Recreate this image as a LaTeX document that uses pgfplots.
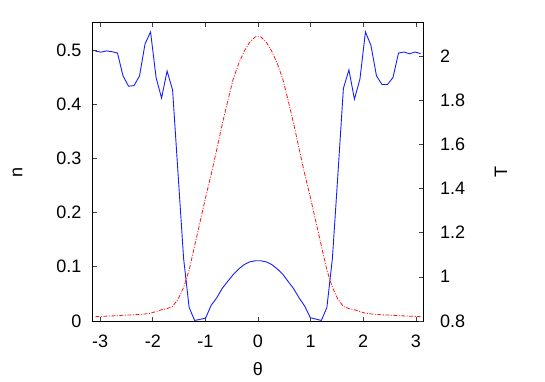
\documentclass[border=0pt]{standalone}
\usepackage{fontspec}
\setmainfont{Liberation Sans}
\usepackage{pgfplots}
\pgfplotsset{compat=1.18}
\definecolor{nblue}{RGB}{20,30,255}
\definecolor{tred}{RGB}{255,20,20}
\begin{document}
\fontsize{18}{21}\selectfont
\begin{tikzpicture}
\path[use as bounding box] (-92.7pt,-61pt) rectangle (452.3pt,321pt);
\pgfplotsset{
  common/.style={
    scale only axis, width=330.6pt, height=298.3pt,
    at={(0pt,0pt)}, anchor=south west,
    xmin=-3.14159, xmax=3.14159,
    tick align=inside, major tick length=4pt,
    tick style={black!75, line width=0.6pt},
    axis line style={line width=0.9pt},
  }
}
\begin{axis}[common,
  ymin=0, ymax=0.55,
  xtick={-3,-2,-1,0,1,2,3}, xticklabels={-3,-2,-1,0,1,2,3},
  ytick={0,0.1,0.2,0.3,0.4,0.5}, yticklabels={0,0.1,0.2,0.3,0.4,0.5},
  xtick pos=both, ytick pos=left,
  xticklabel style={yshift=-8pt},
  yticklabel style={xshift=-5pt},
  xlabel={θ}, xlabel style={at={(axis description cs:0.5,-0.161)}, anchor=center},
  ylabel={n}, ylabel style={at={(axis description cs:-0.2275,0.498)}, anchor=center},
]
\addplot[nblue, line width=0.9pt] coordinates {
(-3.0892,0.4976) (-2.9845,0.4957) (-2.8798,0.4980) (-2.7751,0.4965) (-2.6704,0.4940)
(-2.5656,0.4520) (-2.4609,0.4330) (-2.3562,0.4340) (-2.2515,0.4520) (-2.1468,0.5110)
(-2.0420,0.5330) (-1.9373,0.4490) (-1.8326,0.4110) (-1.7279,0.4610) (-1.6232,0.4260)
(-1.5184,0.2700) (-1.4137,0.1150) (-1.3090,0.0250) (-1.2043,0.0010) (-1.0996,0.0030)
(-0.9948,0.0055) (-0.8901,0.0290) (-0.7854,0.0425) (-0.6807,0.0600) (-0.5760,0.0730)
(-0.4712,0.0855) (-0.3665,0.0960) (-0.2618,0.1040) (-0.1571,0.1090) (-0.0524,0.1110)
(0.0524,0.1110) (0.1571,0.1090) (0.2618,0.1040) (0.3665,0.0960) (0.4712,0.0860)
(0.5760,0.0725) (0.6807,0.0590) (0.7854,0.0420) (0.8901,0.0270) (0.9948,0.0060)
(1.0996,0.0035) (1.2043,0.0010) (1.3090,0.0250) (1.4137,0.1150) (1.5184,0.2700)
(1.6232,0.4290) (1.7279,0.4630) (1.8326,0.4090) (1.9373,0.4460) (2.0420,0.5330)
(2.1468,0.5080) (2.2515,0.4520) (2.3562,0.4360) (2.4609,0.4360) (2.5656,0.4490)
(2.6704,0.4940) (2.7751,0.4960) (2.8798,0.4926) (2.9845,0.4960) (3.0892,0.4930)
};
\end{axis}
\begin{axis}[common,
  ymin=0.8, ymax=2.15,
  axis x line=none, axis y line*=right,
  ytick={0.8,1,1.2,1.4,1.6,1.8,2}, yticklabels={0.8,1,1.2,1.4,1.6,1.8,2},
  ytick pos=right,
  yticklabel style={xshift=10.5pt},
  ylabel={T}, ylabel style={at={(axis description cs:1.235,0.4995)}, anchor=center, rotate=0},
]
\addplot[tred, line width=0.8pt, dash pattern=on 4pt off 1.5pt on 1pt off 1.5pt] coordinates {
(-3.0892,0.8195) (-2.9845,0.821) (-2.8798,0.822) (-2.7751,0.823) (-2.6704,0.824)
(-2.5656,0.826) (-2.4609,0.827) (-2.3562,0.828) (-2.2515,0.830) (-2.1468,0.832)
(-2.0420,0.835) (-1.9373,0.843) (-1.8326,0.851) (-1.7279,0.856) (-1.6232,0.866)
(-1.5184,0.899) (-1.4137,0.952) (-1.3090,1.030) (-1.2043,1.140) (-1.0996,1.250)
(-0.9948,1.360) (-0.8901,1.463) (-0.7854,1.575) (-0.6807,1.690) (-0.5760,1.795)
(-0.4712,1.895) (-0.3665,1.965) (-0.2618,2.021) (-0.1571,2.062) (-0.0524,2.086)
(0.0524,2.086) (0.1571,2.062) (0.2618,2.021) (0.3665,1.965) (0.4712,1.895)
(0.5760,1.795) (0.6807,1.690) (0.7854,1.575) (0.8901,1.463) (0.9948,1.360)
(1.0996,1.250) (1.2043,1.140) (1.3090,1.030) (1.4137,0.952) (1.5184,0.899)
(1.6232,0.866) (1.7279,0.856) (1.8326,0.851) (1.9373,0.843) (2.0420,0.835)
(2.1468,0.832) (2.2515,0.830) (2.3562,0.828) (2.4609,0.827) (2.5656,0.826)
(2.6704,0.824) (2.7751,0.823) (2.8798,0.822) (2.9845,0.821) (3.0892,0.8195)
};
\end{axis}
\end{tikzpicture}
\end{document}
